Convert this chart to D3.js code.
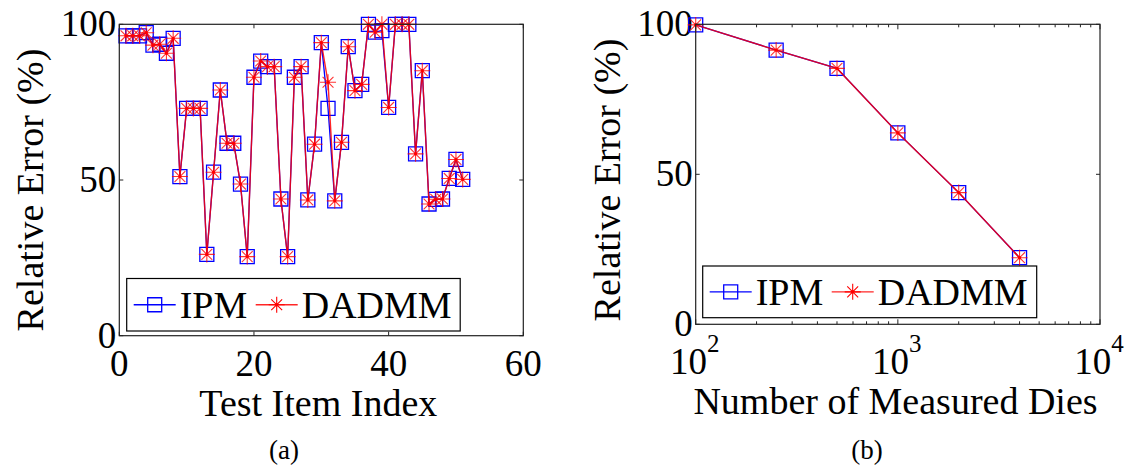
<!DOCTYPE html>
<html>
<head>
<meta charset="utf-8">
<script src="https://cdn.jsdelivr.net/npm/d3@7"></script>
<style>
  html, body { margin: 0; padding: 0; background: #fff; }
  svg { display: block; }
</style>
</head>
<body>
<svg id="fig" width="1127" height="465" font-family="'Liberation Serif', 'Times New Roman', Times, 'DejaVu Serif', serif"></svg>
<script>
// ---- (a) relative error per test item ----
const testItem = [1,2,3,4,5,6,7,8,9,10,11,12,13,14,15,16,17,18,19,20,21,22,23,24,25,26,
                  27,28,29,30,31,32,33,34,35,36,37,38,39,40,41,42,43,44,45,46,47,48,49,50,51];
const ipmByItem = [96.3,96.3,96.3,97.3,93.3,93.6,90.7,95.5,51.1,73.0,73.0,73.0,26.1,52.5,78.9,61.8,61.8,
                   48.7,25.4,83.0,88.2,86.4,86.4,43.9,25.4,83.0,86.4,43.6,61.5,94.1,73.0,43.3,62.1,92.8,
                   78.7,80.7,100,97.5,98.0,73.3,100,100,100,58.4,85.1,42.3,43.8,43.9,50.5,56.6,50.2];
const dadmmByItem = [96.3,96.3,96.3,97.3,93.3,93.6,90.7,95.5,51.1,73.0,73.0,73.0,26.1,52.5,78.9,61.8,61.8,
                     48.7,25.4,83.0,88.2,86.4,86.4,43.9,25.4,83.0,86.4,43.6,61.5,94.1,81.4,43.3,62.1,92.8,
                     78.7,80.7,100,97.5,100,73.3,100,100,100,58.4,85.1,42.3,43.8,43.9,50.5,56.6,50.2];
const itemTicks = [0, 20, 40, 60];

// ---- (b) relative error vs. number of measured dies ----
const measuredDies = [100, 250, 500, 1000, 2000, 4000];
const ipmByDies = [99.8, 91.4, 85.3, 63.8, 43.9, 22.2];
const dadmmByDies = [99.8, 91.4, 85.3, 63.8, 43.9, 22.2];
const diesMajorTicks = [100, 1000, 10000];
const diesMinorTicks = [200,300,400,500,600,700,800,900,2000,3000,4000,5000,6000,7000,8000,9000];

const errTicks = [0, 50, 100];
const seriesNames = ["IPM", "DADMM"];

const BLUE = "#0000ff", RED = "#ff0000";
const FONT_TICK = 37, FONT_LABEL = 38, FONT_CAPTION = 27;

const svg = d3.select("#fig");

// marker shapes, centred on the origin
const squarePath = (s) => `M${-s},${-s}H${s}V${s}H${-s}Z`;
const starPath = (r) => {
  const d = r * 0.68;
  return `M${-r},0H${r}M0,${-r}V${r}M${-d},${-d}L${d},${d}M${-d},${d}L${d},${-d}`;
};

function drawSeries(g, xs, ys, xScale, yScale, kind) {
  const pts = xs.map((x, i) => [x, ys[i]]);
  const line = d3.line().x(d => xScale(d[0])).y(d => yScale(d[1]));
  if (kind === "ipm") {
    g.append("path").attr("d", line(pts)).attr("fill", "none")
      .attr("stroke", BLUE).attr("stroke-width", 1.3);
    g.selectAll(null).data(pts).join("path")
      .attr("transform", d => `translate(${xScale(d[0])},${yScale(d[1])})`)
      .attr("d", squarePath(7)).attr("fill", "none")
      .attr("stroke", BLUE).attr("stroke-width", 1.3);
  } else {
    g.append("path").attr("d", line(pts)).attr("fill", "none")
      .attr("stroke", RED).attr("stroke-width", 1.4).attr("stroke-opacity", 0.85);
    const m = g.selectAll(null).data(pts).join("g")
      .attr("transform", d => `translate(${xScale(d[0])},${yScale(d[1])})`);
    m.append("path").attr("d", starPath(8)).attr("fill", "none")
      .attr("stroke", RED).attr("stroke-width", 1.1).attr("stroke-opacity", 0.8);
    m.append("circle").attr("r", 1.6).attr("fill", RED);
  }
}

function drawLegend(g, box) {
  g.append("rect").attr("x", box.x).attr("y", box.y).attr("width", box.w).attr("height", box.h)
    .attr("fill", "#fff").attr("stroke", "#000").attr("stroke-width", 1.2);
  const cy = box.y + box.h / 2;
  // IPM entry
  g.append("line").attr("x1", box.x + 7).attr("x2", box.x + 49).attr("y1", cy).attr("y2", cy)
    .attr("stroke", BLUE).attr("stroke-width", 1.3);
  g.append("path").attr("transform", `translate(${box.x + 28},${cy})`).attr("d", squarePath(7))
    .attr("fill", "none").attr("stroke", BLUE).attr("stroke-width", 1.3);
  g.append("text").attr("x", box.x + 53).attr("y", cy + 13).attr("font-size", FONT_LABEL)
    .text(seriesNames[0]);
  // DADMM entry
  const x2 = box.x + 129;
  g.append("line").attr("x1", x2).attr("x2", x2 + 42).attr("y1", cy).attr("y2", cy)
    .attr("stroke", RED).attr("stroke-width", 1.4).attr("stroke-opacity", 0.85);
  g.append("path").attr("transform", `translate(${x2 + 21},${cy})`).attr("d", starPath(8))
    .attr("fill", "none").attr("stroke", RED).attr("stroke-width", 1.1);
  g.append("circle").attr("cx", x2 + 21).attr("cy", cy).attr("r", 1.6).attr("fill", RED);
  g.append("text").attr("x", x2 + 46).attr("y", cy + 13).attr("font-size", FONT_LABEL)
    .text(seriesNames[1]);
}

function frame(g, a) {
  g.append("rect").attr("x", a.x0).attr("y", a.y0).attr("width", a.x1 - a.x0).attr("height", a.y1 - a.y0)
    .attr("fill", "none").attr("stroke", "#222").attr("stroke-width", 1.2);
}

function yTicks(g, a, y) {
  errTicks.forEach(t => {
    g.append("line").attr("x1", a.x0).attr("x2", a.x0 + 4).attr("y1", y(t)).attr("y2", y(t))
      .attr("stroke", "#222");
    g.append("line").attr("x1", a.x1).attr("x2", a.x1 - 4).attr("y1", y(t)).attr("y2", y(t))
      .attr("stroke", "#222");
    g.append("text").attr("x", a.x0 - 3).attr("y", y(t) + 12).attr("text-anchor", "end")
      .attr("font-size", FONT_TICK).text(t);
  });
}

function yLabel(g, x, y) {
  g.append("text").attr("transform", `translate(${x},${y}) rotate(-90)`)
    .attr("text-anchor", "middle").attr("font-size", FONT_LABEL).text("Relative Error (%)");
}

// ================= panel (a) =================
const A = { x0: 119.3, x1: 523.3, y0: 24.3, y1: 335.7 };
const xa = d3.scaleLinear().domain([0, 60]).range([A.x0, A.x1]);
const ya = d3.scaleLinear().domain([0, 100]).range([A.y1, A.y0]);
const ga = svg.append("g");

itemTicks.forEach(t => {
  ga.append("line").attr("x1", xa(t)).attr("x2", xa(t)).attr("y1", A.y1).attr("y2", A.y1 - 4).attr("stroke", "#222");
  ga.append("line").attr("x1", xa(t)).attr("x2", xa(t)).attr("y1", A.y0).attr("y2", A.y0 + 4).attr("stroke", "#222");
  ga.append("text").attr("x", xa(t)).attr("y", A.y1 + 40).attr("text-anchor", "middle")
    .attr("font-size", FONT_TICK).text(t);
});
yTicks(ga, A, ya);

drawSeries(ga, testItem, ipmByItem, xa, ya, "ipm");
drawSeries(ga, testItem, dadmmByItem, xa, ya, "dadmm");
frame(ga, A);
drawLegend(ga, { x: 126.7, y: 278.5, w: 333.5, h: 52.5 });

ga.append("text").attr("x", (A.x0 + A.x1) / 2 - 3).attr("y", 416).attr("text-anchor", "middle")
  .attr("font-size", FONT_LABEL).text("Test Item Index");
yLabel(ga, 43, 190);
ga.append("text").attr("x", 284).attr("y", 459).attr("text-anchor", "middle")
  .attr("font-size", FONT_CAPTION).text("(a)");

// ================= panel (b) =================
const B = { x0: 695.7, x1: 1100, y0: 24.3, y1: 324.3 };
const xb = d3.scaleLog().domain([100, 10000]).range([B.x0, B.x1]);
const yb = d3.scaleLinear().domain([0, 100]).range([B.y1, B.y0]);
const gb = svg.append("g");

diesMinorTicks.forEach(t => {
  gb.append("line").attr("x1", xb(t)).attr("x2", xb(t)).attr("y1", B.y1).attr("y2", B.y1 - 3).attr("stroke", "#222");
  gb.append("line").attr("x1", xb(t)).attr("x2", xb(t)).attr("y1", B.y0).attr("y2", B.y0 + 3).attr("stroke", "#222");
});
diesMajorTicks.forEach(t => {
  gb.append("line").attr("x1", xb(t)).attr("x2", xb(t)).attr("y1", B.y1).attr("y2", B.y1 - 5).attr("stroke", "#222");
  gb.append("line").attr("x1", xb(t)).attr("x2", xb(t)).attr("y1", B.y0).attr("y2", B.y0 + 5).attr("stroke", "#222");
  const lbl = gb.append("text").attr("x", xb(t) - 1).attr("y", B.y1 + 50).attr("text-anchor", "middle")
    .attr("font-size", FONT_TICK);
  lbl.append("tspan").text("10");
  lbl.append("tspan").attr("dy", -22).attr("font-size", 25).text(Math.round(Math.log10(t)));
});
yTicks(gb, B, yb);

drawSeries(gb, measuredDies, ipmByDies, xb, yb, "ipm");
drawSeries(gb, measuredDies, dadmmByDies, xb, yb, "dadmm");
frame(gb, B);
drawLegend(gb, { x: 702.7, y: 266, w: 334, h: 51.7 });

gb.append("text").attr("x", 895.5).attr("y", 414).attr("text-anchor", "middle")
  .attr("font-size", FONT_LABEL).text("Number of Measured Dies");
yLabel(gb, 620, 180);
gb.append("text").attr("x", 867).attr("y", 459).attr("text-anchor", "middle")
  .attr("font-size", FONT_CAPTION).text("(b)");
</script>
</body>
</html>
